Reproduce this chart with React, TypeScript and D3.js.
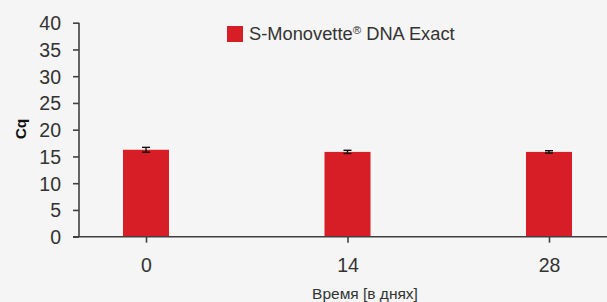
import React, { useEffect, useRef } from 'react';
import * as d3 from 'd3';

const days = ['0', '14', '28'];
const cqMeans = [16.25, 15.85, 15.85];
const cqErrors = [0.45, 0.3, 0.22];
const yTicks = [0, 5, 10, 15, 20, 25, 30, 35, 40];

const App = () => {
  const ref = useRef<SVGSVGElement>(null);

  useEffect(() => {
    const W = 607;
    const H = 302;
    const svg = d3.select(ref.current);
    svg.selectAll('*').remove();

    svg.append('rect').attr('width', W).attr('height', H).attr('fill', '#f4f5f4');

    const font = '"Liberation Sans", Arial, sans-serif';
    const axisColor = '#404040';
    const textColor = '#333333';
    const red = '#d71e26';

    const x = d3.scalePoint<string>().domain(days).range([146, 549]);
    const y = d3.scaleLinear().domain([0, 40]).range([236.7, 22.7]);
    const barW = 46;

    // y axis
    const yAxis = svg.append('g').attr('transform', 'translate(79,0)')
      .call(d3.axisLeft(y).tickValues(yTicks).tickSize(6).tickPadding(12));
    yAxis.select('.domain').remove();
    yAxis.selectAll('line').attr('stroke', axisColor).attr('stroke-width', 1.6);
    yAxis.selectAll('text').attr('font-family', font).attr('font-size', 19.5)
      .attr('fill', textColor).attr('dy', '0.36em');
    svg.append('line').attr('x1', 79).attr('x2', 79).attr('y1', y(40)).attr('y2', y(0))
      .attr('stroke', axisColor).attr('stroke-width', 1.6);

    // bars
    svg.selectAll('.bar').data(days).enter().append('rect')
      .attr('class', 'bar')
      .attr('x', (d) => (x(d) as number) - barW / 2)
      .attr('y', (d, i) => y(cqMeans[i]))
      .attr('width', barW)
      .attr('height', (d, i) => y(0) - y(cqMeans[i]))
      .attr('fill', red);

    // error bars
    const eb = svg.selectAll('.err').data(days).enter().append('g').attr('class', 'err')
      .attr('stroke', '#111').attr('stroke-width', 1.4);
    eb.append('line')
      .attr('x1', (d) => x(d) as number).attr('x2', (d) => x(d) as number)
      .attr('y1', (d, i) => y(cqMeans[i] + cqErrors[i]))
      .attr('y2', (d, i) => y(cqMeans[i] - cqErrors[i]));
    eb.append('line')
      .attr('x1', (d) => (x(d) as number) - 4).attr('x2', (d) => (x(d) as number) + 4)
      .attr('y1', (d, i) => y(cqMeans[i] + cqErrors[i]))
      .attr('y2', (d, i) => y(cqMeans[i] + cqErrors[i]));
    eb.append('line')
      .attr('x1', (d) => (x(d) as number) - 4).attr('x2', (d) => (x(d) as number) + 4)
      .attr('y1', (d, i) => y(cqMeans[i] - cqErrors[i]))
      .attr('y2', (d, i) => y(cqMeans[i] - cqErrors[i]));

    // x axis
    const xAxis = svg.append('g').attr('transform', `translate(0,${y(0)})`)
      .call(d3.axisBottom(x).tickSize(6).tickPadding(15));
    xAxis.select('.domain').remove();
    xAxis.selectAll('line').attr('stroke', axisColor).attr('stroke-width', 1.6);
    xAxis.selectAll('text').attr('font-family', font).attr('font-size', 19.5).attr('fill', textColor);
    svg.append('line').attr('x1', 73).attr('x2', W).attr('y1', y(0)).attr('y2', y(0))
      .attr('stroke', axisColor).attr('stroke-width', 1.6);

    // axis titles
    svg.append('text').attr('x', 365).attr('y', 299).attr('text-anchor', 'middle')
      .attr('font-family', font).attr('font-size', 15.5).attr('fill', textColor)
      .text('Время [в днях]');
    svg.append('text').attr('transform', 'translate(26,129) rotate(-90)')
      .attr('text-anchor', 'middle').attr('font-family', font).attr('font-size', 15.5)
      .attr('font-weight', 'bold').attr('fill', '#111').text('Cq');

    // legend
    svg.append('rect').attr('x', 227).attr('y', 26).attr('width', 16).attr('height', 16).attr('fill', red);
    const lt = svg.append('text').attr('x', 249).attr('y', 39.5)
      .attr('font-family', font).attr('font-size', 18.3).attr('fill', textColor);
    lt.append('tspan').text('S-Monovette');
    lt.append('tspan').attr('font-size', 11.5).attr('dy', -6).text('®');
    lt.append('tspan').attr('dy', 6).text(' DNA Exact');
  }, []);

  return (
    <svg ref={ref} width={607} height={302}
      style={{ position: 'absolute', left: 0, top: 0, display: 'block' }} />
  );
};

export default App;
